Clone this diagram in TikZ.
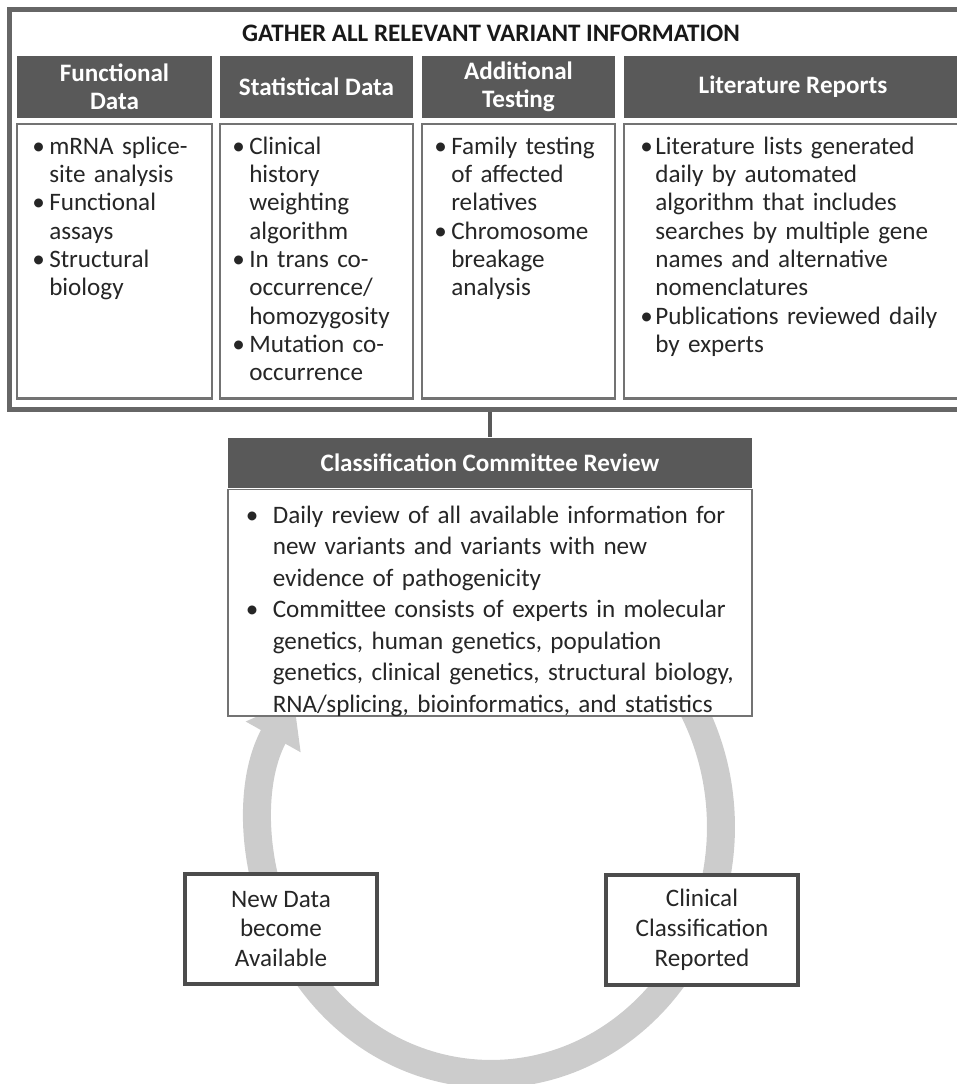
\documentclass[tikz,border=0pt]{standalone}
\usepackage{fontspec}
\setmainfont{Carlito}
\usepackage{tikz}
\usetikzlibrary{arrows.meta,positioning,calc}

\newcommand{\litem}[2][0.34cm]{\par\hangindent=#1\hangafter=1\noindent\makebox[#1][l]{\textbullet}#2\par}
\newcommand{\nl}{\newline}

\begin{document}
\begin{tikzpicture}[x=0.02cm,y=-0.02cm,semithick]
  \tikzstyle{head}=[fill=black!65,text=white,font=\fontsize{14.3}{16.1}\bfseries\selectfont,align=center,minimum height=1.24cm,inner sep=0pt]
  \tikzstyle{frame}=[draw=black!55,line width=0.05cm,fill=white,minimum height=5.5cm,inner sep=0pt]
  \tikzstyle{list}=[text=black!85,font=\fontsize{14.3}{16.1}\selectfont\raggedright,anchor=north west,inner sep=0pt]
  \tikzstyle{stage}=[draw=black!70,line width=0.08cm,fill=white,text=black!85,minimum width=3.86cm,minimum height=2.2cm,align=center,font=\fontsize{14.3}{17}\selectfont]

  \useasboundingbox (0,0) rectangle (956,1084);

  \node[draw=black!60,line width=0.1cm,minimum width=19.22cm,minimum height=8.02cm] (G) at (489.5,209.5) {};
  \node[text=black!90,font=\fontsize{14.3}{16.1}\bfseries\selectfont] (T) at (491,33) {GATHER ALL RELEVANT VARIANT INFORMATION};

  \node[head,minimum width=3.9cm]  (H1) at (114.5,87) {Functional\\Data};
  \node[head,minimum width=3.86cm] (H2) at (316.5,87) {Statistical Data};
  \node[head,minimum width=3.86cm] (H3) at (518.5,87) {Additional\\Testing};
  \node[head,minimum width=6.76cm] (H4) at (793,87)   {Literature Reports};

  \node[frame,minimum width=3.9cm,below=0.08cm of H1]  (B1) {};
  \node[frame,minimum width=3.86cm,below=0.08cm of H2] (B2) {};
  \node[frame,minimum width=3.86cm,below=0.08cm of H3] (B3) {};
  \node[frame,minimum width=6.76cm,below=0.08cm of H4] (B4) {};

  \node[list,text width=3.5cm] (L1) at ([xshift=0.32cm,yshift=-0.06cm]B1.north west)
    {\litem{mRNA splice-\nl site analysis}\litem{Functional\nl assays}\litem{Structural\nl biology}};
  \node[list,text width=3.5cm] (L2) at ([xshift=0.26cm,yshift=-0.06cm]B2.north west)
    {\litem{Clinical\nl history\nl weighting\nl algorithm}\litem{In trans co-\nl occurrence/\nl homozygosity}\litem{Mutation co-\nl occurrence}};
  \node[list,text width=3.5cm] (L3) at ([xshift=0.26cm,yshift=-0.06cm]B3.north west)
    {\litem{Family testing\nl of affected\nl relatives}\litem{Chromosome\nl breakage\nl analysis}};
  \node[list,text width=6.2cm] (L4) at ([xshift=0.34cm,yshift=-0.06cm]B4.north west)
    {\litem[0.3cm]{Literature lists generated\nl daily by automated\nl algorithm that includes\nl searches by multiple gene\nl names and alternative\nl nomenclatures}\litem[0.3cm]{Publications reviewed daily\nl by experts}};

  \coordinate (O) at (491,827);
  \draw[gray!40,line width=0.56cm,-{Triangle[length=0.85cm,width=1.2cm]}]
    ($(O)+(40:4.6cm and 4.94cm)$) arc[start angle=40,end angle=-211,x radius=4.6cm,y radius=4.94cm];

  \node[head,minimum width=10.48cm,minimum height=1cm] (CH) at (490,463) {Classification Committee Review};
  \node[draw=black!55,line width=0.03cm,fill=white,minimum width=10.48cm,minimum height=4.54cm,below=0pt of CH] (CB) {};
  \node[list,font=\fontsize{14.3}{17.9}\selectfont\raggedright,text width=9.8cm] (CL) at ([xshift=0.36cm,yshift=-0.06cm]CB.north west)
    {\litem[0.54cm]{Daily review of all available information for\nl new variants and variants with new\nl evidence of pathogenicity}\litem[0.54cm]{Committee consists of experts in molecular\nl genetics, human genetics, population\nl genetics, clinical genetics, structural biology,\nl RNA/splicing, bioinformatics, and statistics}};

  \draw[black!65,line width=0.07cm] (G.south -| CH.north) -- (CH.north);

  \node[stage] (ND) at (281,929) {New Data\\become\\Available};
  \node[stage] (CC) at (702,929.5) {Clinical\\Classification\\Reported};
\end{tikzpicture}
\end{document}
